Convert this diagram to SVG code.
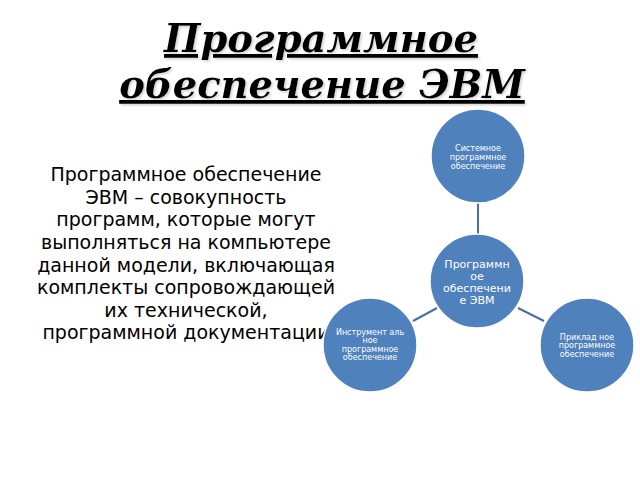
<svg xmlns="http://www.w3.org/2000/svg" width="640" height="480" viewBox="0 0 640 480">
<defs>
<filter id="shadow" x="-10%" y="-30%" width="120%" height="160%">
<feDropShadow dx="1.5" dy="1.5" stdDeviation="0.8" flood-color="#999999" flood-opacity="0.45"/>
</filter>
</defs>
<style>
.title{font-family:"DejaVu Serif",serif;font-weight:bold;font-style:italic;font-size:38.5px;text-anchor:middle;text-decoration:underline;fill:#000}
.body{font-family:"DejaVu Sans",sans-serif;font-size:19px;fill:#000;text-anchor:middle}
.node circle{fill:#4f81bd;stroke:#ffffff;stroke-width:1.5}
.node text{font-family:"DejaVu Sans",sans-serif;fill:#ffffff;text-anchor:middle}
.s text{font-size:8px}
.c text{font-size:11px}
.conn line{stroke:#4a6ea6;stroke-width:2}
</style>
<rect width="640" height="480" fill="#ffffff"/>
<g id="title" filter="url(#shadow)">
<text class="title" x="321" y="52">Программное</text>
<text class="title" x="322" y="98">обеспечение ЭВМ</text>
</g>
<g id="description">
<text class="body" x="186" y="181">Программное обеспечение</text>
<text class="body" x="186" y="204">ЭВМ – совокупность</text>
<text class="body" x="186" y="226">программ, которые могут</text>
<text class="body" x="186" y="249">выполняться на компьютере</text>
<text class="body" x="186" y="272">данной модели, включающая</text>
<text class="body" x="186" y="294">комплекты сопровождающей</text>
<text class="body" x="186" y="317">их технической,</text>
<text class="body" x="186" y="339">программной документации</text>
</g>
<g id="connectors" class="conn">
<line x1="478" y1="203" x2="478" y2="234"/>
<line x1="413" y1="321" x2="437" y2="308"/>
<line x1="518" y1="308" x2="544" y2="321"/>
</g>
<g id="node-system" class="node s">
<circle cx="478" cy="156" r="47"/>
<text x="478" y="151">Системное</text>
<text x="478" y="160">программное</text>
<text x="478" y="169">обеспечение</text>
</g>
<g id="node-main" class="node c">
<circle cx="477" cy="281" r="47"/>
<text x="477" y="268">Программн</text>
<text x="477" y="280">ое</text>
<text x="477" y="292">обеспечени</text>
<text x="477" y="304">е ЭВМ</text>
</g>
<g id="node-tools" class="node s">
<circle cx="370" cy="345" r="47"/>
<text x="370" y="335">Инструмент аль</text>
<text x="370" y="343">ное</text>
<text x="370" y="352">программное</text>
<text x="370" y="360">обеспечение</text>
</g>
<g id="node-applied" class="node s">
<circle cx="587" cy="345" r="47"/>
<text x="587" y="340">Приклад ное</text>
<text x="587" y="348">программное</text>
<text x="587" y="357">обеспечение</text>
</g>
</svg>
